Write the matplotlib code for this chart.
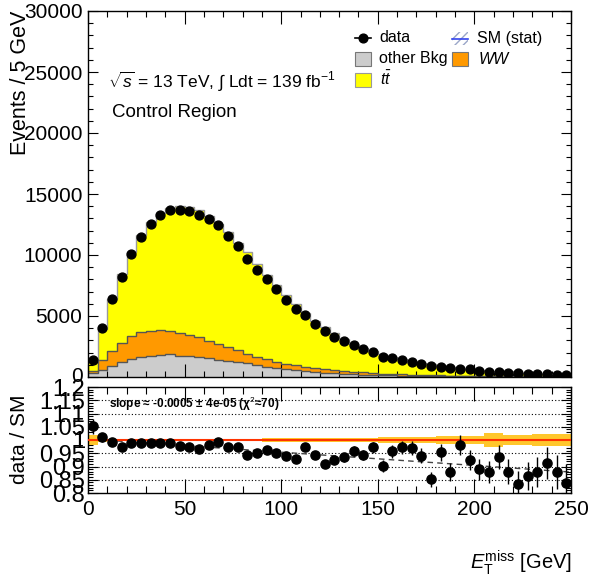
import numpy as np
import matplotlib
matplotlib.use("Agg")
import matplotlib.pyplot as plt
from matplotlib.patches import Rectangle
from matplotlib.lines import Line2D
from matplotlib.transforms import Bbox, TransformedBbox
from matplotlib.ticker import MultipleLocator

plt.rcParams['font.family'] = ['Liberation Sans', 'DejaVu Sans']
plt.rcParams['mathtext.fontset'] = 'custom'
plt.rcParams['mathtext.rm'] = 'Liberation Sans'
plt.rcParams['mathtext.it'] = 'Liberation Sans:italic'
plt.rcParams['mathtext.bf'] = 'Liberation Sans:bold'

# ---------------- data (5 GeV bins, 0-250 GeV) ----------------
bin_edges = list(range(0, 255, 5))

data_counts = [1400, 4000, 6370, 8230, 10090, 11500, 12520, 13310, 13720, 13720,
               13580, 13250, 12930, 12460, 11560, 10720, 9650, 8770, 8030, 7190,
               6310, 5570, 5080, 4345, 3740, 3306, 2950, 2600, 2270, 2050,
               1670, 1580, 1420, 1230, 1070, 900, 850, 710, 680, 630,
               520, 440, 410, 355, 300, 270, 245, 220, 190, 140]

other_bkg = [330, 550, 930, 1230, 1480, 1660, 1720, 1830, 1850, 1760,
             1700, 1610, 1530, 1420, 1340, 1230, 1120, 990, 860, 770,
             680, 580, 500, 420, 360, 310, 270, 230, 200, 175,
             150, 130, 115, 100, 90, 80, 70, 62, 55, 48,
             42, 37, 33, 29, 26, 23, 20, 18, 16, 14]

ww = [190, 844, 1220, 1570, 1880, 2000, 2050, 2020, 1950, 1870,
      1770, 1640, 1450, 1280, 1090, 960, 790, 680, 620, 490,
      410, 380, 320, 290, 270, 240, 210, 190, 170, 150,
      135, 120, 105, 95, 82, 72, 65, 58, 51, 46,
      41, 37, 33, 29, 26, 23, 21, 18, 16, 14]

ttbar = [810, 2566, 4258, 5667, 6863, 7991, 8915, 9594, 10059, 10413,
         10501, 10466, 10200, 9873, 9426, 8827, 8323, 7562, 6867, 6293,
         5616, 5029, 4406, 3898, 3484, 3024, 2675, 2294, 2037, 1784,
         1564, 1401, 1241, 1074, 965, 904, 757, 687, 588, 587,
         502, 427, 372, 345, 308, 267, 238, 205, 184, 139]

# relative MC statistical uncertainty per bin (ratio band half-width)
mc_stat_rel = [0.019, 0.007, 0.004, 0.004, 0.004, 0.004, 0.004, 0.004, 0.004, 0.004,
               0.005, 0.005, 0.005, 0.005, 0.005, 0.005, 0.005, 0.005, 0.006, 0.006,
               0.007, 0.007, 0.007, 0.007, 0.008, 0.008, 0.008, 0.009, 0.009, 0.009,
               0.010, 0.010, 0.010, 0.011, 0.011, 0.013, 0.014, 0.015, 0.015, 0.016,
               0.016, 0.028, 0.028, 0.020, 0.020, 0.020, 0.024, 0.024, 0.024, 0.024]

fit_slope = -0.0005
fit_intercept = 1.004
fit_text = "slope \u2248 -0.0005 \u00b1 4e-05 (\u03c7$^{2}$\u224870)"

main_yticks = [0, 5000, 10000, 15000, 20000, 25000, 30000]
ratio_yticks = [0.8, 0.85, 0.9, 0.95, 1.0, 1.05, 1.1, 1.15, 1.2]
ratio_yticklabels = ['0.8', '0.85', '0.9', '0.95', '1', '1.05', '1.1', '1.15', '1.2']
xticks = [0, 50, 100, 150, 200, 250]

# ---------------- derived ----------------
edges = np.array(bin_edges, dtype=float)
centers = 0.5 * (edges[:-1] + edges[1:])
d = np.array(data_counts, float)
o = np.array(other_bkg, float)
w = np.array(ww, float)
t = np.array(ttbar, float)
total = o + w + t
ratio = d / total
ratio_err = np.sqrt(d) / total
band = np.array(mc_stat_rel)

W, H = 592, 583
def fx(x): return x / W
def fy(y): return 1 - y / H

fig = plt.figure(figsize=(5.92, 5.83), dpi=100)
L, R = 88, 571
ax = fig.add_axes([fx(L), fy(377), fx(R) - fx(L), fy(11) - fy(377)])
ax2 = fig.add_axes([fx(L), fy(493), fx(R) - fx(L), fy(387) - fy(493)])

# ---------------- main panel ----------------
ax.stairs(o, edges, baseline=0, fill=True, color='#CCCCCC', lw=0, zorder=1)
ax.stairs(o + w, edges, baseline=o, fill=True, color='#FF9900', lw=0, zorder=1)
ax.stairs(total, edges, baseline=o + w, fill=True, color='#FFFF00', lw=0, zorder=1)
ax.stairs(o, edges, baseline=None, color='#555555', lw=1.0, zorder=2)
ax.stairs(o + w, edges, baseline=None, color='#555555', lw=1.0, zorder=2)
ax.stairs(total, edges, baseline=None, color='#999999', lw=1.0, zorder=2)
ax.errorbar(centers, d, yerr=np.sqrt(d), fmt='o', color='k', ms=6.4,
            elinewidth=1.0, capsize=0, zorder=5)

ax.set_xlim(0, 250)
ax.set_ylim(0, 30000)
ax.set_yticks(main_yticks)
ax.set_yticklabels([''] + [str(v) for v in main_yticks[1:]])
ax.set_xticks(xticks)
ax.set_xticklabels([])
ax.xaxis.set_minor_locator(MultipleLocator(10))
ax.yaxis.set_minor_locator(MultipleLocator(1000))
ax.tick_params(which='both', direction='in', top=True, right=True, width=0.8, colors='k')
ax.tick_params(axis='x', which='major', length=9.5)
ax.tick_params(axis='x', which='minor', length=4.5)
ax.tick_params(axis='y', which='major', length=7.5, labelsize=15, pad=4)
ax.tick_params(axis='y', which='minor', length=3.8)
for s in ax.spines.values():
    s.set_linewidth(1.0)

# clipped "0" label for main panel (cut by pad edge)
zero = fig.text(fx(83), fy(377), '0', ha='right', va='center', fontsize=15)
zero.set_clip_box(TransformedBbox(Bbox([[0, fy(382)], [1, 1]]), fig.transFigure))
zero.set_clip_on(True)

# annotation texts
fig.text(fx(108), fy(82), r'$\sqrt{s}$ = 13 TeV, $\int$ Ldt = 139 fb$^{\mathregular{-1}}$',
         ha='left', va='center', fontsize=12.5)
fig.text(fx(112), fy(113), 'Control Region', ha='left', va='center', fontsize=13.5)

# legend (manual)
fs_leg = 11.5
fig.add_artist(Line2D([fx(355), fx(371)], [fy(38), fy(38)], color='k', lw=1.2))
fig.add_artist(Line2D([fx(363)], [fy(38)], marker='o', color='k', ms=6.3))
fig.text(fx(379), fy(38), 'data', ha='left', va='center', fontsize=fs_leg)
fig.add_artist(Rectangle((fx(452), fy(45)), fx(468) - fx(452), fy(32) - fy(45),
                         facecolor='white', edgecolor='#9AA6C8', hatch='////', lw=0))
fig.add_artist(Line2D([fx(452), fx(468)], [fy(38.5), fy(38.5)], color='#3344EE', lw=1.2))
fig.text(fx(477), fy(38), 'SM (stat)', ha='left', va='center', fontsize=fs_leg)
fig.add_artist(Rectangle((fx(355), fy(66)), fx(371) - fx(355), fy(52) - fy(66),
                         facecolor='#CCCCCC', edgecolor='#777777', lw=0.8))
fig.text(fx(379), fy(59), 'other Bkg', ha='left', va='center', fontsize=fs_leg)
fig.add_artist(Rectangle((fx(452), fy(66)), fx(468) - fx(452), fy(52) - fy(66),
                         facecolor='#FF9900', edgecolor='#777777', lw=0.8))
fig.text(fx(479), fy(59), 'WW', ha='left', va='center', fontsize=fs_leg, style='italic')
fig.add_artist(Rectangle((fx(355), fy(87)), fx(371) - fx(355), fy(73) - fy(87),
                         facecolor='#FFFF00', edgecolor='#999999', lw=0.8))
fig.text(fx(380), fy(79), r'$t\bar{t}$', ha='left', va='center', fontsize=fs_leg)

fig.text(fx(21), fy(11), 'Events / 5 GeV', rotation=90, ha='center', va='top', fontsize=15.5)

# ---------------- ratio panel ----------------
for v in [0.85, 0.9, 0.95, 1.05, 1.1, 1.15]:
    ax2.axhline(v, color='k', ls=(0, (1, 2)), lw=0.8, zorder=0)
xs = np.array([0.0, 250.0])
ax2.plot(xs, fit_intercept + fit_slope * xs, ls=(0, (4, 3)), color='#444444', lw=1.0, zorder=1)
ax2.stairs(1 + band, edges, baseline=1 - band, fill=True, color='#FFC72C', lw=0, zorder=2)
ax2.axhline(1.0, color='#FF3300', lw=1.5, zorder=3)
ax2.errorbar(centers, ratio, yerr=ratio_err, fmt='o', color='k', ms=6.6,
             elinewidth=1.0, capsize=0, zorder=5)
ax2.set_xlim(0, 250)
ax2.set_ylim(0.8, 1.2)
ax2.set_yticks(ratio_yticks)
ax2.set_yticklabels(ratio_yticklabels)
ax2.set_xticks(xticks)
ax2.set_xticklabels([str(v) for v in xticks])
ax2.xaxis.set_minor_locator(MultipleLocator(10))
ax2.yaxis.set_minor_locator(MultipleLocator(0.01))
ax2.tick_params(which='both', direction='in', top=True, right=True, width=0.8, colors='k')
ax2.tick_params(axis='x', which='major', length=10, labelsize=15, pad=5)
ax2.tick_params(axis='x', which='minor', length=5)
ax2.tick_params(axis='y', which='major', length=7, labelsize=17, pad=2)
ax2.tick_params(axis='y', which='minor', length=3.5)
for s in ax2.spines.values():
    s.set_linewidth(1.0)

ax2.text(0.22, 0.845, fit_text, transform=ax2.transAxes, ha='center', va='center',
         fontsize=8.5, fontweight='bold')

fig.text(fx(20), fy(439), 'data / SM', rotation=90, ha='center', va='center', fontsize=15)
fig.text(fx(572), fy(563), r'$E_{\mathrm{T}}^{\mathrm{miss}}$ [GeV]', ha='right', va='center',
         fontsize=14.5)

fig.savefig('out.png', dpi=100)
